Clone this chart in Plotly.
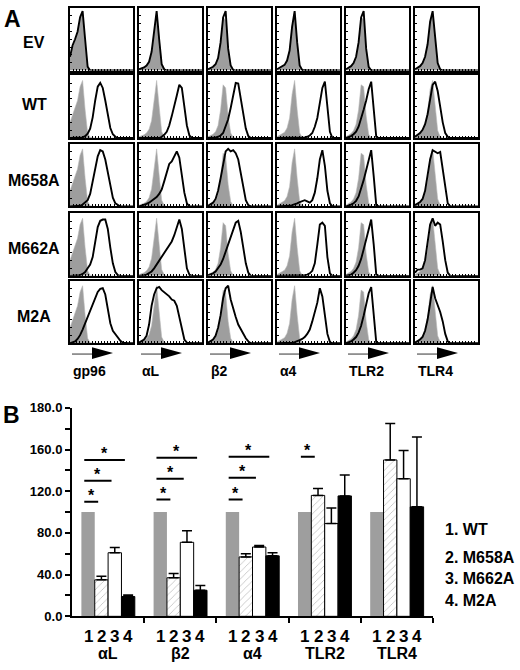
import plotly.graph_objects as go

# ---------------- Panel A data (flow cytometry histograms) ----------------
CHANNELS = [0, 4, 8, 12, 16, 20, 24, 28, 32, 36, 40, 44, 48, 52, 56, 60, 64, 68, 72, 76, 80, 84, 88, 92, 96, 100]
MARKERS = ["gp96", "αL", "β2", "α4", "TLR2", "TLR4"]
CONSTRUCTS = ["EV", "WT", "M658A", "M662A", "M2A"]

# isotype control (grey filled) per marker
ISO_GP96 = [0.25, 0.38, 0.5, 0.6, 0.82, 0.92, 0.45, 0.08, 0.01, 0, 0, 0, 0, 0, 0, 0, 0, 0, 0, 0, 0, 0, 0, 0, 0, 0]
ISO_AL = [0.02, 0.03, 0.05, 0.08, 0.14, 0.28, 0.6, 0.92, 0.5, 0.1, 0.02, 0, 0, 0, 0, 0, 0, 0, 0, 0, 0, 0, 0, 0, 0, 0]
ISO_B2 = [0.02, 0.04, 0.06, 0.1, 0.2, 0.45, 0.85, 0.8, 0.35, 0.08, 0.01, 0, 0, 0, 0, 0, 0, 0, 0, 0, 0, 0, 0, 0, 0, 0]
ISO_A4 = [0.02, 0.04, 0.06, 0.09, 0.16, 0.32, 0.7, 0.92, 0.45, 0.08, 0.01, 0, 0, 0, 0, 0, 0, 0, 0, 0, 0, 0, 0, 0, 0, 0]
ISO_TLR2 = [0.02, 0.04, 0.07, 0.12, 0.22, 0.45, 0.85, 0.82, 0.35, 0.06, 0, 0, 0, 0, 0, 0, 0, 0, 0, 0, 0, 0, 0, 0, 0, 0]
ISO_TLR4 = [0.02, 0.04, 0.07, 0.12, 0.22, 0.42, 0.78, 0.92, 0.5, 0.12, 0.02, 0, 0, 0, 0, 0, 0, 0, 0, 0, 0, 0, 0, 0, 0, 0]

# specific staining (black outline), one list per construct x marker
EV_GP96 = [0.22, 0.4, 0.5, 0.62, 0.85, 0.95, 0.5, 0.06, 0, 0, 0, 0, 0, 0, 0, 0, 0, 0, 0, 0, 0, 0, 0, 0, 0, 0]
EV_AL = [0.02, 0.03, 0.05, 0.08, 0.14, 0.3, 0.62, 0.95, 0.5, 0.1, 0.02, 0, 0, 0, 0, 0, 0, 0, 0, 0, 0, 0, 0, 0, 0, 0]
EV_B2 = [0.02, 0.04, 0.06, 0.1, 0.2, 0.45, 0.85, 0.95, 0.35, 0.08, 0.01, 0, 0, 0, 0, 0, 0, 0, 0, 0, 0, 0, 0, 0, 0, 0]
EV_A4 = [0.02, 0.04, 0.06, 0.09, 0.16, 0.32, 0.7, 0.95, 0.45, 0.08, 0.01, 0, 0, 0, 0, 0, 0, 0, 0, 0, 0, 0, 0, 0, 0, 0]
EV_TLR2 = [0.02, 0.04, 0.07, 0.12, 0.22, 0.45, 0.85, 0.95, 0.35, 0.06, 0, 0, 0, 0, 0, 0, 0, 0, 0, 0, 0, 0, 0, 0, 0, 0]
EV_TLR4 = [0.02, 0.04, 0.07, 0.12, 0.22, 0.42, 0.78, 0.95, 0.5, 0.12, 0.02, 0, 0, 0, 0, 0, 0, 0, 0, 0, 0, 0, 0, 0, 0, 0]

WT_GP96 = [0, 0, 0, 0, 0, 0.01, 0.03, 0.07, 0.15, 0.33, 0.6, 0.82, 0.88, 0.8, 0.6, 0.35, 0.16, 0.06, 0.02, 0, 0, 0, 0, 0, 0, 0]
WT_AL = [0, 0, 0, 0, 0, 0, 0, 0, 0, 0.02, 0.05, 0.1, 0.2, 0.35, 0.5, 0.68, 0.85, 0.8, 0.5, 0.2, 0.04, 0, 0, 0, 0, 0]
WT_B2 = [0, 0, 0, 0.01, 0.02, 0.04, 0.08, 0.18, 0.3, 0.48, 0.7, 0.88, 0.87, 0.65, 0.4, 0.15, 0.03, 0, 0, 0, 0, 0, 0, 0, 0, 0]
WT_A4 = [0, 0, 0, 0, 0, 0, 0, 0, 0, 0, 0, 0.01, 0.02, 0.04, 0.08, 0.18, 0.32, 0.55, 0.8, 0.9, 0.55, 0.1, 0, 0, 0, 0]
WT_TLR2 = [0, 0.01, 0.03, 0.06, 0.1, 0.18, 0.3, 0.45, 0.6, 0.78, 0.9, 0.5, 0.02, 0, 0, 0, 0, 0, 0, 0, 0, 0, 0, 0, 0, 0]
WT_TLR4 = [0.02, 0.05, 0.08, 0.13, 0.22, 0.38, 0.6, 0.85, 0.9, 0.75, 0.5, 0.25, 0.08, 0.02, 0, 0, 0, 0, 0, 0, 0, 0, 0, 0, 0, 0]

M658A_GP96 = [0, 0, 0, 0, 0.01, 0.03, 0.06, 0.1, 0.2, 0.4, 0.62, 0.8, 0.9, 0.88, 0.75, 0.55, 0.3, 0.14, 0.05, 0.02, 0, 0, 0, 0, 0, 0]
M658A_AL = [0, 0.01, 0.02, 0.04, 0.06, 0.09, 0.12, 0.15, 0.2, 0.27, 0.4, 0.55, 0.68, 0.72, 0.8, 0.88, 0.78, 0.5, 0.22, 0.05, 0, 0, 0, 0, 0, 0]
M658A_B2 = [0.01, 0.03, 0.06, 0.12, 0.25, 0.45, 0.7, 0.88, 0.92, 0.88, 0.9, 0.85, 0.75, 0.55, 0.3, 0.1, 0.02, 0, 0, 0, 0, 0, 0, 0, 0, 0]
M658A_A4 = [0, 0, 0, 0, 0, 0.01, 0.02, 0.03, 0.05, 0.07, 0.09, 0.1, 0.08, 0.06, 0.1, 0.22, 0.45, 0.75, 0.9, 0.65, 0.25, 0.05, 0, 0, 0, 0]
M658A_TLR2 = [0, 0.01, 0.03, 0.05, 0.09, 0.16, 0.28, 0.42, 0.58, 0.76, 0.9, 0.48, 0.02, 0, 0, 0, 0, 0, 0, 0, 0, 0, 0, 0, 0, 0]
M658A_TLR4 = [0.02, 0.04, 0.07, 0.12, 0.25, 0.5, 0.75, 0.9, 0.88, 0.85, 0.87, 0.6, 0.25, 0.05, 0, 0, 0, 0, 0, 0, 0, 0, 0, 0, 0, 0]

M662A_GP96 = [0, 0, 0, 0, 0.01, 0.03, 0.06, 0.12, 0.18, 0.3, 0.55, 0.78, 0.88, 0.9, 0.9, 0.75, 0.45, 0.2, 0.06, 0.01, 0, 0, 0, 0, 0, 0]
M662A_AL = [0, 0, 0.01, 0.02, 0.04, 0.07, 0.12, 0.18, 0.25, 0.32, 0.38, 0.43, 0.48, 0.55, 0.65, 0.78, 0.9, 0.75, 0.4, 0.12, 0.02, 0, 0, 0, 0, 0]
M662A_B2 = [0.01, 0.02, 0.04, 0.07, 0.12, 0.18, 0.27, 0.38, 0.5, 0.6, 0.72, 0.85, 0.88, 0.7, 0.45, 0.2, 0.05, 0, 0, 0, 0, 0, 0, 0, 0, 0]
M662A_A4 = [0, 0, 0, 0, 0, 0, 0, 0, 0, 0, 0, 0.01, 0.02, 0.04, 0.08, 0.2, 0.5, 0.82, 0.85, 0.8, 0.3, 0.04, 0, 0, 0, 0]
M662A_TLR2 = [0, 0.01, 0.02, 0.05, 0.09, 0.16, 0.27, 0.42, 0.58, 0.75, 0.9, 0.5, 0.02, 0, 0, 0, 0, 0, 0, 0, 0, 0, 0, 0, 0, 0]
M662A_TLR4 = [0.05, 0.1, 0.1, 0.12, 0.25, 0.55, 0.82, 0.92, 0.8, 0.85, 0.82, 0.55, 0.25, 0.05, 0, 0, 0, 0, 0, 0, 0, 0, 0, 0, 0, 0]

M2A_GP96 = [0, 0.01, 0.03, 0.07, 0.13, 0.22, 0.32, 0.43, 0.55, 0.65, 0.75, 0.82, 0.87, 0.88, 0.78, 0.55, 0.32, 0.2, 0.14, 0.08, 0.04, 0.01, 0, 0, 0, 0]
M2A_AL = [0.01, 0.03, 0.06, 0.12, 0.3, 0.6, 0.78, 0.88, 0.9, 0.85, 0.82, 0.78, 0.75, 0.7, 0.68, 0.6, 0.4, 0.2, 0.06, 0.01, 0, 0, 0, 0, 0, 0]
M2A_B2 = [0.01, 0.03, 0.06, 0.12, 0.25, 0.45, 0.72, 0.88, 0.92, 0.7, 0.55, 0.42, 0.3, 0.22, 0.14, 0.08, 0.03, 0, 0, 0, 0, 0, 0, 0, 0, 0]
M2A_A4 = [0, 0, 0, 0, 0, 0, 0.01, 0.02, 0.03, 0.05, 0.07, 0.1, 0.15, 0.22, 0.35, 0.48, 0.65, 0.88, 0.75, 0.45, 0.15, 0.02, 0, 0, 0, 0]
M2A_TLR2 = [0, 0.01, 0.03, 0.06, 0.1, 0.17, 0.28, 0.44, 0.6, 0.8, 0.9, 0.45, 0.02, 0, 0, 0, 0, 0, 0, 0, 0, 0, 0, 0, 0, 0]
M2A_TLR4 = [0.01, 0.03, 0.06, 0.1, 0.2, 0.38, 0.65, 0.9, 0.72, 0.62, 0.5, 0.35, 0.15, 0.03, 0, 0, 0, 0, 0, 0, 0, 0, 0, 0, 0, 0]

ISOTYPE = [ISO_GP96, ISO_AL, ISO_B2, ISO_A4, ISO_TLR2, ISO_TLR4]
STAIN = [
    [EV_GP96, EV_AL, EV_B2, EV_A4, EV_TLR2, EV_TLR4],
    [WT_GP96, WT_AL, WT_B2, WT_A4, WT_TLR2, WT_TLR4],
    [M658A_GP96, M658A_AL, M658A_B2, M658A_A4, M658A_TLR2, M658A_TLR4],
    [M662A_GP96, M662A_AL, M662A_B2, M662A_A4, M662A_TLR2, M662A_TLR4],
    [M2A_GP96, M2A_AL, M2A_B2, M2A_A4, M2A_TLR2, M2A_TLR4],
]

# ---------------- Panel B data (bar chart, % of WT) ----------------
BAR_GROUPS = ["αL", "β2", "α4", "TLR2", "TLR4"]
SERIES_NAMES = ["1. WT", "2. M658A", "3. M662A", "4. M2A"]
WT_PCT = [100, 100, 100, 100, 100]
M658A_PCT = [35, 37, 57, 116, 150]
M658A_ERR = [3.5, 4, 3, 6.5, 35]
M662A_PCT = [61, 71, 66.5, 89, 132]
M662A_ERR = [5, 11, 1.5, 15, 27]
M2A_PCT = [19, 25, 58, 115.5, 105]
M2A_ERR = [1.5, 4.5, 3, 20, 67]
Y_TICKS = [0, 20, 40, 60, 80, 100, 120, 140, 160, 180, 200]
Y_TICKTEXT = ["0.0", "", "40.0", "", "80.0", "", "120.0", "", "160.0", "", "180.0"]

# significance bars: group index, last bar compared, height
SIG_GROUP = [0, 0, 0, 1, 1, 1, 2, 2, 2, 3]
SIG_TO_BAR = [2, 3, 4, 2, 3, 4, 2, 3, 4, 2]
SIG_LEVEL = [110, 130, 150, 112, 132, 152, 112, 133, 153, 153]

# ---------------- layout geometry ----------------
W, H = 520, 670
FONT = "Liberation Sans, Arial, sans-serif"
COL_LEFT = [70, 139, 208, 277, 346, 415]
ROW_TOP = [1, 70, 140, 211, 280]
BOX_W, BOX_H = 63, 64


def px(x):
    return x / W


def py(y):
    return 1 - y / H


fig = go.Figure()
layout = dict(
    width=W, height=H, margin=dict(l=0, r=0, t=0, b=0),
    paper_bgcolor="white", plot_bgcolor="white", showlegend=False,
    font=dict(family=FONT, color="black"),
)
annotations = []
shapes = []

for r in range(5):
    for c in range(6):
        idx = r * 6 + c + 1
        xa = "x" if idx == 1 else f"x{idx}"
        ya = "y" if idx == 1 else f"y{idx}"
        fig.add_trace(go.Scatter(
            x=CHANNELS, y=ISOTYPE[c], mode="lines", fill="tozeroy",
            fillcolor="#9e9e9e", line=dict(color="#b8b8b8", width=0.6),
            xaxis=xa, yaxis=ya, hoverinfo="skip"))
        fig.add_trace(go.Scatter(
            x=CHANNELS, y=STAIN[r][c], mode="lines",
            line=dict(color="black", width=1.9),
            xaxis=xa, yaxis=ya, hoverinfo="skip"))
        L, T = COL_LEFT[c], ROW_TOP[r]
        layout["xaxis" if idx == 1 else f"xaxis{idx}"] = dict(
            domain=[px(L), px(L + BOX_W)], range=[0, 100], anchor=ya,
            showgrid=False, zeroline=False, showticklabels=False,
            showline=True, linecolor="black", linewidth=2, mirror=True,
            ticks="inside", ticklen=2, tickwidth=1, tickcolor="black", dtick=5)
        layout["yaxis" if idx == 1 else f"yaxis{idx}"] = dict(
            domain=[py(T + BOX_H), py(T)], range=[0, 1.0], anchor=xa,
            showgrid=False, zeroline=False, showticklabels=False,
            showline=True, linecolor="black", linewidth=2, mirror=True,
            ticks="inside", ticklen=2, tickwidth=1, tickcolor="black", dtick=0.125)

# row labels
ROW_LABEL_Y = [36, 100, 177, 247, 317]
for r, name in enumerate(CONSTRUCTS):
    annotations.append(dict(x=px(34), y=py(ROW_LABEL_Y[r]), xref="paper", yref="paper",
                            text=f"<b>{name}</b>", showarrow=False, xanchor="center",
                            yanchor="middle", font=dict(size=16, family=FONT)))

# arrows + marker labels
for c, name in enumerate(MARKERS):
    L = COL_LEFT[c]
    shapes.append(dict(type="line", xref="paper", yref="paper",
                       x0=px(L + 2), x1=px(L + 23), y0=py(355), y1=py(355),
                       line=dict(color="#333333", width=1)))
    shapes.append(dict(type="path", xref="paper", yref="paper",
                       path=f"M {px(L + 22)} {py(348)} L {px(L + 22)} {py(360)} L {px(L + 43)} {py(354)} Z",
                       fillcolor="black", line=dict(color="black", width=0)))
    annotations.append(dict(x=px(L + 1), y=py(372), xref="paper", yref="paper",
                            text=f"<b>{name}</b>", showarrow=False, xanchor="left",
                            yanchor="middle", font=dict(size=14, family=FONT)))

annotations.append(dict(x=px(2), y=py(12), xref="paper", yref="paper", text="<b>A</b>",
                        showarrow=False, xanchor="left", yanchor="middle",
                        font=dict(size=23, family=FONT)))
annotations.append(dict(x=px(1), y=py(417), xref="paper", yref="paper", text="<b>B</b>",
                        showarrow=False, xanchor="left", yanchor="middle",
                        font=dict(size=23, family=FONT)))

# ---------------- Panel B ----------------
gi = list(range(len(BAR_GROUPS)))
BW = 0.185
bar_specs = [
    (WT_PCT, None, dict(color="#9e9e9e", line=dict(width=0))),
    (M658A_PCT, M658A_ERR, dict(color="white", line=dict(color="black", width=1),
                                pattern=dict(shape="/", fgcolor="#555555", size=5, solidity=0.12))),
    (M662A_PCT, M662A_ERR, dict(color="white", line=dict(color="black", width=1))),
    (M2A_PCT, M2A_ERR, dict(color="black", line=dict(color="black", width=1))),
]
for k, (vals, errs, marker) in enumerate(bar_specs):
    tr = dict(x=gi, y=vals, name=SERIES_NAMES[k], marker=marker, xaxis="x31", yaxis="y31",
              hoverinfo="skip")
    if errs is not None:
        tr["error_y"] = dict(type="data", array=errs, arrayminus=[0] * len(errs),
                             symmetric=False, color="black", thickness=1.5, width=5)
    fig.add_trace(go.Bar(**tr))

layout["barmode"] = "group"
layout["bargap"] = 1 - 4 * BW
layout["bargroupgap"] = 0
layout["xaxis31"] = dict(domain=[px(72), px(433)], range=[-0.5, 4.5], anchor="y31",
                         showgrid=False, zeroline=False, showline=True, linecolor="black",
                         linewidth=2, tickvals=[0.5, 1.5, 2.5, 3.5, 4.5], ticks="outside",
                         ticklen=5, tickwidth=2, tickcolor="black", showticklabels=False)
layout["yaxis31"] = dict(domain=[py(623.3), py(410)], range=[0, 200], anchor="x31",
                         showgrid=False, zeroline=False, showline=True, linecolor="black",
                         linewidth=2, tickvals=Y_TICKS,
                         ticktext=[f"<b>{t}</b>" if t else "" for t in Y_TICKTEXT],
                         ticks="outside", ticklen=5, tickwidth=2, tickcolor="black",
                         tickfont=dict(size=13, family=FONT, color="black"))

# bar number labels and group labels
for g, gname in enumerate(BAR_GROUPS):
    for k in range(4):
        annotations.append(dict(x=g + (k - 1.5) * BW, y=py(644), xref="x31", yref="paper",
                                text=f"<b>{k + 1}</b>", showarrow=False, xanchor="center",
                                yanchor="middle", font=dict(size=17, family=FONT)))
    annotations.append(dict(x=g, y=py(661), xref="x31", yref="paper",
                            text=f"<b>{gname}</b>", showarrow=False, xanchor="center",
                            yanchor="middle", font=dict(size=16, family=FONT)))

# significance lines and stars
for g, kb, lvl in zip(SIG_GROUP, SIG_TO_BAR, SIG_LEVEL):
    x0 = g - 0.33
    x1 = g + (kb - 2.5) * BW - 0.045
    shapes.append(dict(type="line", xref="x31", yref="y31", x0=x0, x1=x1, y0=lvl, y1=lvl,
                       line=dict(color="black", width=2)))
    annotations.append(dict(x=(x0 + x1) / 2, y=lvl, xref="x31", yref="y31", text="<b>*</b>",
                            showarrow=False, xanchor="center", yanchor="middle", yshift=6,
                            font=dict(size=16, family=FONT)))

# legend text
LEG_Y = [534, 563, 585, 607]
for k, name in enumerate(SERIES_NAMES):
    annotations.append(dict(x=px(444), y=py(LEG_Y[k]), xref="paper", yref="paper",
                            text=f"<b>{name}</b>", showarrow=False, xanchor="left",
                            yanchor="middle", borderpad=0, font=dict(size=16, family=FONT)))

layout["annotations"] = annotations
layout["shapes"] = shapes
fig.update_layout(**layout)
fig.write_html(
    "out.html",
    config={"displayModeBar": False, "staticPlot": True},
    post_script="document.body.style.margin='0px';document.body.style.overflow='hidden';",
)
